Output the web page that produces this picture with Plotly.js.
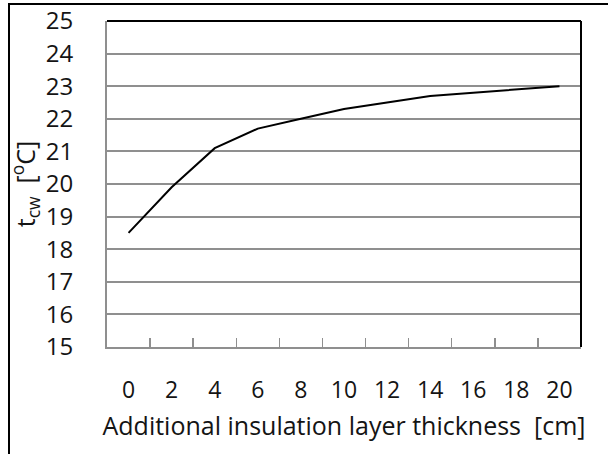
<!DOCTYPE html>
<html>
<head>
<meta charset="utf-8">
<script src="https://cdn.plot.ly/plotly-3.0.1.min.js"></script>
<style>
  html, body { margin: 0; padding: 0; background: #fff; }
  #wrap { position: relative; width: 608px; height: 454px; overflow: hidden; }
  #chart { position: absolute; left: 0; top: 0; width: 608px; height: 454px; }
  #frame { position: absolute; left: 8px; top: 3px; right: -5px; bottom: -5px;
           border-top: 2px solid #000; border-left: 2px solid #000; pointer-events: none; }
</style>
</head>
<body>
<div id="wrap">
  <div id="chart"></div>
  <div id="frame"></div>
</div>
<script>
// Data
const thickness = ["0", "2", "4", "6", "8", "10", "12", "14", "16", "18", "20"];
const tcw = [18.5, 19.9, 21.1, 21.7, 22.0, 22.3, 22.5, 22.7, 22.8, 22.9, 23.0];
const yTicks = [15, 16, 17, 18, 19, 20, 21, 22, 23, 24, 25];

const xTitle = "Additional insulation layer thickness  [cm]";
const yTitle = "t<sub>cw</sub>  [<sup>o</sup>C]";

const fontFamily = "'Open Sans', 'DejaVu Sans', sans-serif";
const gridColor = "#8f8f8f";
const textColor = "#141414";

const trace = {
  x: thickness,
  y: tcw,
  type: "scatter",
  mode: "lines",
  line: { color: "#000000", width: 2 },
  hoverinfo: "x+y"
};

const layout = {
  width: 608,
  height: 454,
  margin: { l: 107, r: 27, t: 21, b: 107, pad: 0 },
  paper_bgcolor: "#ffffff",
  plot_bgcolor: "#ffffff",
  showlegend: false,
  font: { family: fontFamily, color: textColor, size: 24 },
  xaxis: {
    type: "category",
    range: [-0.5, thickness.length - 0.5],
    showgrid: false,
    zeroline: false,
    showline: true,
    linecolor: gridColor,
    linewidth: 2,
    ticks: "inside",
    tickson: "boundaries",
    ticklen: 9,
    tickwidth: 1.5,
    tickcolor: gridColor,
    ticklabelstandoff: 21,
    tickfont: { family: fontFamily, size: 23, color: textColor },
    title: { text: xTitle, font: { family: fontFamily, size: 25, color: textColor }, standoff: 14 },
    automargin: false,
    fixedrange: true
  },
  yaxis: {
    range: [15, 25],
    tickvals: yTicks,
    ticktext: yTicks.map(String),
    showgrid: true,
    gridcolor: gridColor,
    gridwidth: 2,
    zeroline: false,
    showline: true,
    linecolor: gridColor,
    linewidth: 2,
    ticks: "",
    ticklabelstandoff: 27,
    tickfont: { family: fontFamily, size: 24, color: textColor },
    title: { text: yTitle, font: { family: fontFamily, size: 25, color: textColor }, standoff: 3 },
    automargin: false,
    fixedrange: true
  },
  shapes: [
    { type: "line", xref: "paper", yref: "paper", x0: 0, x1: 1, y0: 1, y1: 1,
      line: { color: "#000000", width: 2 } },
    { type: "line", xref: "paper", yref: "paper", x0: 1, x1: 1, y0: 0, y1: 1,
      line: { color: "#000000", width: 2 } }
  ]
};

Plotly.newPlot("chart", [trace], layout, { displayModeBar: false, staticPlot: true });
</script>
</body>
</html>
